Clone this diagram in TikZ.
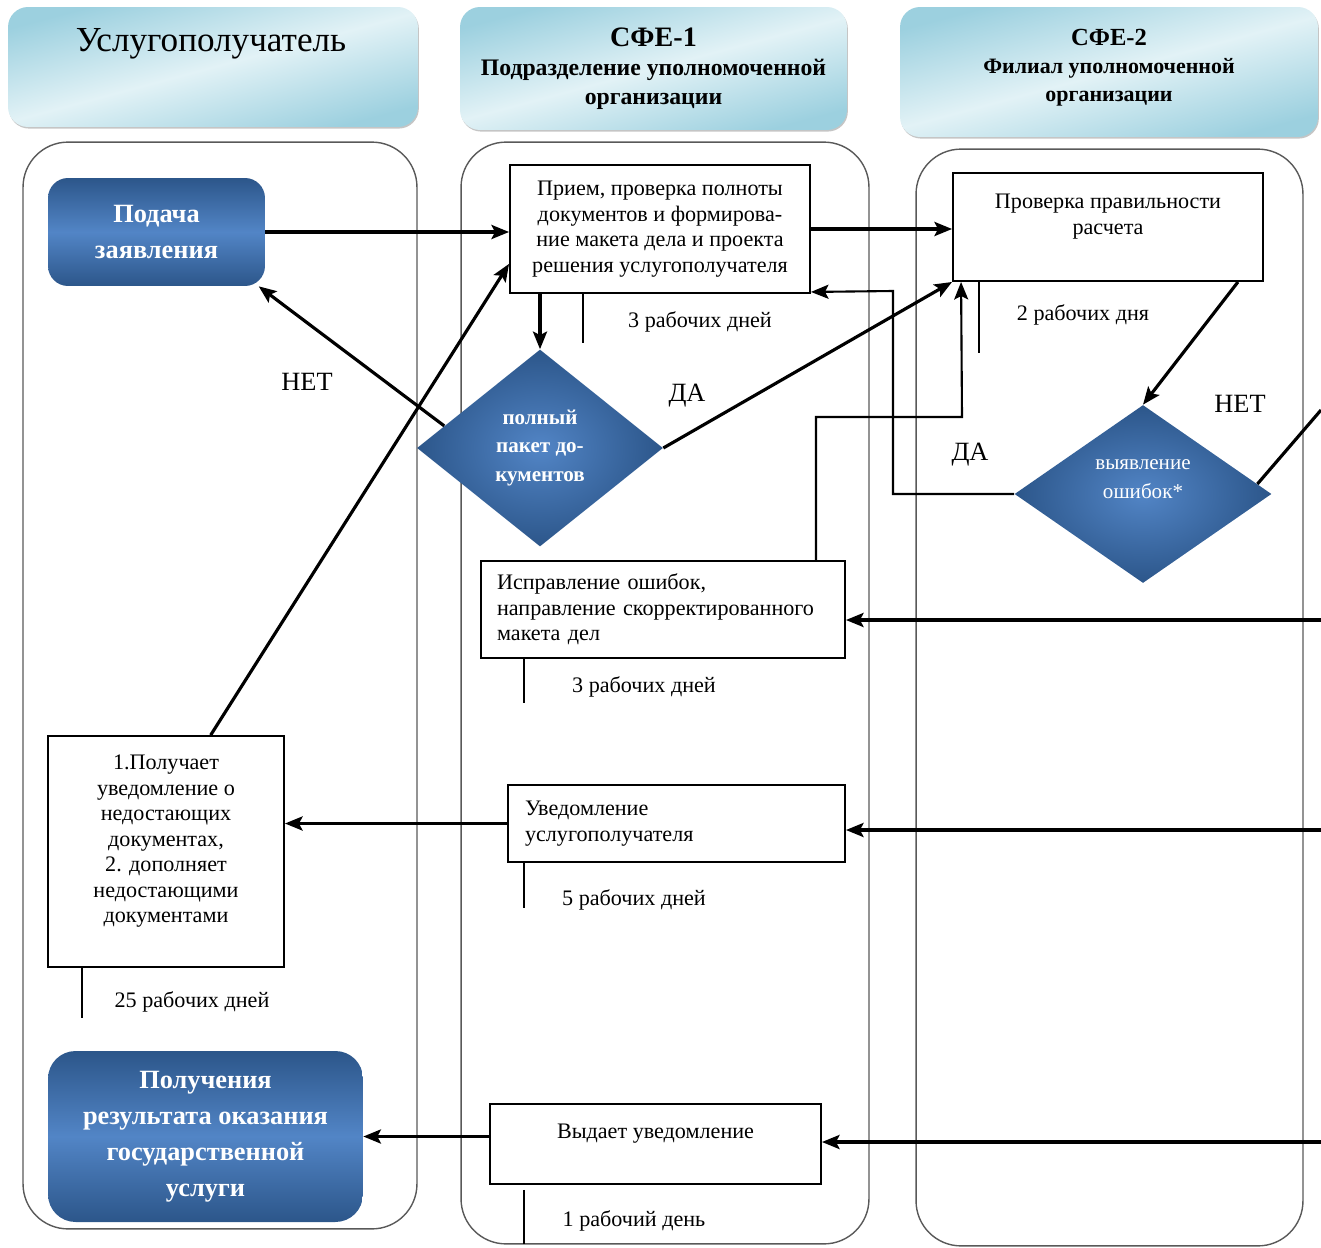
\documentclass[tikz,border=0pt]{standalone}
\usepackage{fontspec}
\setmainfont{Liberation Serif}
\usetikzlibrary{shapes.geometric,arrows.meta,shadows}
\definecolor{bluedark}{HTML}{2C568A}
\definecolor{bluelight}{HTML}{5285C6}
\definecolor{headdark}{HTML}{9CD0DF}
\definecolor{headlight}{HTML}{E2F2F6}
\begin{document}
\begin{tikzpicture}[x=0.02cm,y=-0.02cm,>={Stealth[length=10pt,width=8pt,inset=2pt]},
	lane/.style={draw=black!65,line width=0.8pt,rounded corners=0.9cm},
	head/.style={rounded corners=0.4cm,top color=headdark,bottom color=headdark,middle color=headlight,shading angle=15,drop shadow={shadow xshift=0.5pt,shadow yshift=-0.9pt,fill=black!45},align=center,font=\bfseries\fontsize{13.5}{16.5}\selectfont},
	bluebox/.style={rounded corners=0.4cm,top color=bluedark,bottom color=bluedark,middle color=bluelight,text=white,align=center,font=\bfseries\fontsize{15}{20.5}\selectfont},
	dec/.style={diamond,inner sep=0pt,inner color=bluelight,outer color=bluedark,text=white,align=center},
	box/.style={draw,line width=1.1pt,fill=white,align=center,font=\fontsize{12.6}{14.5}\selectfont},
	lbl/.style={font=\fontsize{12.6}{14.5}\selectfont},
	yesno/.style={font=\fontsize{15}{18}\selectfont},
	flow/.style={->,line width=1.8pt},
	timeline/.style={line width=1.1pt}]
	\useasboundingbox (0,0) rectangle (1321,1247);
	\node[lane,minimum width=7.88cm,minimum height=21.74cm] (lane1) at (220,685.5) {};
	\node[lane,minimum width=8.16cm,minimum height=22.04cm] (lane2) at (665,693) {};
	\node[lane,minimum width=7.74cm,minimum height=21.94cm] (lane3) at (1109.5,697.5) {};
	\node[head,minimum width=8.2cm,minimum height=2.4cm] (h1) at (213,67) {};
	\node[font=\fontsize{20}{24}\selectfont] (h1txt) at (211,44) {Услугополучатель};
	\node[head,minimum width=7.74cm,minimum height=2.46cm] (h2) at (653.5,68.5) {{\fontsize{16}{19}\selectfont СФЕ-1}\\Подразделение уполномоченной\\организации};
	\node[head,minimum width=8.36cm,minimum height=2.6cm,font=\bfseries\fontsize{12.5}{16}\selectfont] (h3) at (1109,72) {{\fontsize{14}{17}\selectfont СФЕ-2}\\Филиал уполномоченной\\организации\\[-8pt]\mbox{}};

	\node[bluebox,minimum width=4.34cm,minimum height=2.16cm] (pod) at (156.5,232) {Подача\\заявления};
	\node[box,minimum width=6cm,minimum height=2.56cm] (pri) at (660,229) {Прием, проверка полноты\\документов и формирова-\\ние макета дела и проекта\\решения услугополучателя};
	\node[dec,minimum width=4.92cm,minimum height=3.94cm,font=\bfseries\fontsize{12}{16}\selectfont] (full) at (540,448) {полный\\пакет до-\\кументов};
	\node[box,minimum width=6.2cm,minimum height=2.16cm] (prov) at (1108,227) {Проверка правильности\\расчета\\ \mbox{}};
	\node[dec,minimum width=5.14cm,minimum height=3.56cm,font=\fontsize{12}{17}\selectfont] (err) at (1143,494) {выявление\\ошибок*\\ \mbox{}};
	\node[box,minimum width=7.28cm,minimum height=1.94cm,text width=6.64cm,inner xsep=0.32cm,align=left] (fix) at (663,609.5) {Исправление ошибок,\\направление скорректированного\\макета дел};
	\node[box,minimum width=6.74cm,minimum height=1.54cm,text width=6.06cm,inner xsep=0.34cm,align=left] (note) at (676.5,823.5) {Уведомление\\услугополучателя};
	\node[box,minimum width=4.72cm,minimum height=4.62cm] (get) at (166,851.5) {1.Получает\\уведомление о\\недостающих\\документах,\\2. дополняет\\недостающими\\документами\\ \mbox{}};
	\node[bluebox,minimum width=6.3cm,minimum height=3.42cm,rounded corners=0.55cm] (res) at (205.5,1136.5) {Получения\\результата оказания\\государственной\\услуги};
	\node[box,minimum width=6.62cm,minimum height=1.6cm] (out) at (655.5,1144) {Выдает уведомление\\ \mbox{}};

	\node[yesno] (no1) at (307,382) {НЕТ};
	\node[yesno] (yes1) at (687,396) {ДА};
	\node[yesno] (yes2) at (970,455) {ДА};
	\node[yesno] (no2) at (1240,404) {НЕТ};
	\node[lbl] (tpri) at (700,322) {3 рабочих дней};
	\node[lbl] (tprov) at (1083,315) {2 рабочих дня};
	\node[lbl] (tfix) at (644,687) {3 рабочих дней};
	\node[lbl] (tnote) at (634,900) {5 рабочих дней};
	\node[lbl] (tget) at (192,1002) {25 рабочих дней};
	\node[lbl] (tout) at (634,1221) {1 рабочий день};

	\coordinate (r0) at (1321,410);
	\coordinate (r1) at (1321,620);
	\coordinate (r2) at (1321,830);
	\coordinate (r3) at (1321,1142);

	\draw[flow] (pod.east) -- (pod.east -| pri.west);
	\draw[flow] (full.north |- pri.south) -- (full.north);
	\draw[flow] (full.167) -- (pod.-28);
	\draw[flow] (get.69) -- (pri.193.5);
	\draw[flow] (pri.east) -- (pri.east -| prov.west);
	\draw[flow] (full.east) -- (prov.south west);
	\draw[flow,line width=1.2pt] ([xshift=-0.6cm]fix.north east) |- (962,417) -- ([xshift=0.18cm]prov.south west);
	\draw[flow,line width=1.2pt] (err.west) -| (893,291) -- ([yshift=0.04cm]pri.south east);
	\draw[flow] ([xshift=-0.52cm]prov.south east) -- (err.north);
	\draw[line width=1.8pt] (err.5) -- (r0);
	\draw[flow] (r1) -- (r1 -| fix.east);
	\draw[flow] (r2) -- (r2 -| note.east);
	\draw[flow] (note.west) -- (note.west -| get.east);
	\draw[flow] (r3) -- (r3 -| out.east);
	\draw[flow,<-] (res.east) -- (res.east -| out.west);

	\draw[timeline] ([xshift=1.48cm]pri.south west) -- ++(0,49);
	\draw[timeline] ([xshift=0.54cm]prov.south west) -- ++(0,71);
	\draw[timeline] ([xshift=0.88cm]fix.south west) -- ++(0,44);
	\draw[timeline] ([xshift=0.34cm]note.south west) -- ++(0,45);
	\draw[timeline] ([xshift=0.7cm]get.south west) -- ++(0,50);
	\draw[timeline] ([xshift=0.7cm,yshift=-0.1cm]out.south west) -- ++(0,54);
\end{tikzpicture}
\end{document}
